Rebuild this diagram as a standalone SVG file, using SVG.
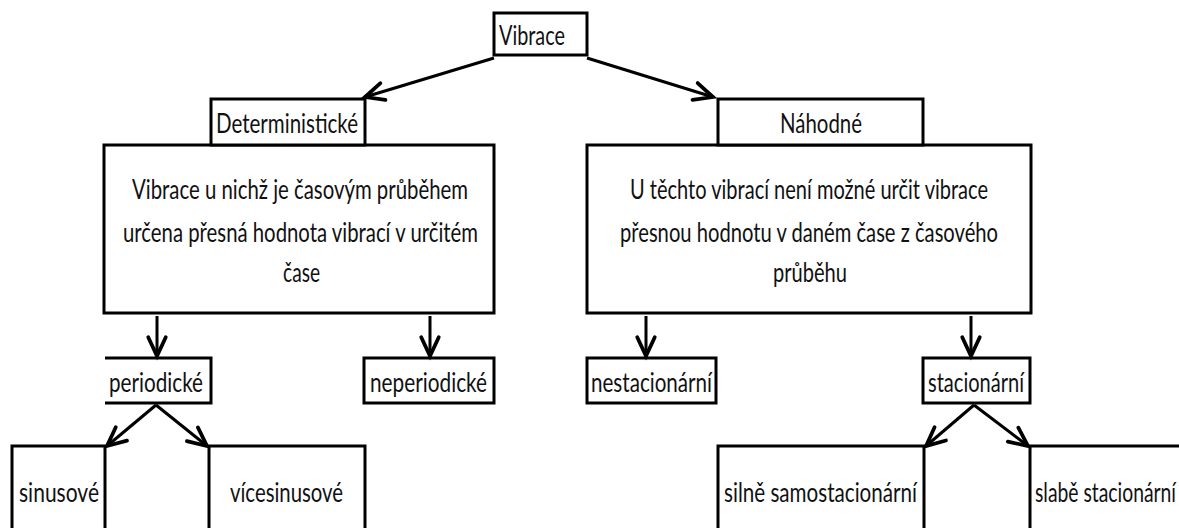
<svg xmlns="http://www.w3.org/2000/svg" width="1179" height="528" viewBox="0 0 1179 528">
<style>
.box{fill:#fff;stroke:#000;stroke-width:3}
.edge{fill:none;stroke:#000;stroke-width:3}
.t{font-family:Lato,"Open Sans","Liberation Sans",sans-serif;font-size:27px;fill:#111}
</style>
<defs>
<marker id="ah" markerUnits="userSpaceOnUse" markerWidth="30" markerHeight="30" viewBox="-20 -12 24 24" refX="0" refY="0" orient="auto">
<path d="M-15 -7 L0 0 L-15 7" fill="none" stroke="#000" stroke-width="3" stroke-linecap="round" stroke-linejoin="miter"/>
</marker>
</defs>
<rect width="1179" height="528" fill="#fff"/>
<g id="n-vibrace">
<rect class="box" x="494" y="13" width="93" height="42"/>
<text class="t" x="499" y="45" textLength="66" lengthAdjust="spacingAndGlyphs">Vibrace</text>
</g>
<g id="n-det-desc">
<rect class="box" x="104" y="145" width="390" height="168"/>
<text class="t" x="132" y="199" textLength="336" lengthAdjust="spacingAndGlyphs">Vibrace u nichž je časovým průběhem</text>
<text class="t" x="123" y="242" textLength="355" lengthAdjust="spacingAndGlyphs">určena přesná hodnota vibrací v určitém</text>
<text class="t" x="283" y="282" textLength="37" lengthAdjust="spacingAndGlyphs">čase</text>
</g>
<g id="n-deterministicke">
<rect class="box" x="211" y="99" width="154" height="46"/>
<text class="t" x="216" y="133" textLength="142" lengthAdjust="spacingAndGlyphs">Deterministické</text>
</g>
<g id="n-nah-desc">
<rect class="box" x="587" y="145" width="444" height="168"/>
<text class="t" x="630" y="199" textLength="358" lengthAdjust="spacingAndGlyphs">U těchto vibrací není možné určit vibrace</text>
<text class="t" x="620" y="242" textLength="378" lengthAdjust="spacingAndGlyphs">přesnou hodnotu v daném čase z časového</text>
<text class="t" x="773" y="282" textLength="74" lengthAdjust="spacingAndGlyphs">průběhu</text>
</g>
<g id="n-nahodne">
<rect class="box" x="718" y="99" width="205" height="46"/>
<text class="t" x="780" y="133" textLength="82" lengthAdjust="spacingAndGlyphs">Náhodné</text>
</g>
<g id="n-periodicke">
<path class="box" d="M105 358 H211 V403 H105"/>
<text class="t" x="109" y="392" textLength="94" lengthAdjust="spacingAndGlyphs">periodické</text>
</g>
<g id="n-neperiodicke">
<rect class="box" x="364" y="358" width="130" height="45"/>
<text class="t" x="370" y="392" textLength="117" lengthAdjust="spacingAndGlyphs">neperiodické</text>
</g>
<g id="n-nestacionarni">
<rect class="box" x="587" y="358" width="129" height="45"/>
<text class="t" x="591" y="392" textLength="121" lengthAdjust="spacingAndGlyphs">nestacionární</text>
</g>
<g id="n-stacionarni">
<rect class="box" x="923" y="358" width="107" height="45"/>
<text class="t" x="928" y="392" textLength="96" lengthAdjust="spacingAndGlyphs">stacionární</text>
</g>
<g id="n-sinusove">
<rect class="box" x="12" y="446" width="93" height="100"/>
<text class="t" x="19" y="502" textLength="80" lengthAdjust="spacingAndGlyphs">sinusové</text>
</g>
<g id="n-vicesinusove">
<rect class="box" x="209" y="446" width="156" height="100"/>
<text class="t" x="230" y="502" textLength="113" lengthAdjust="spacingAndGlyphs">vícesinusové</text>
</g>
<g id="n-silne">
<rect class="box" x="718" y="446" width="206" height="100"/>
<text class="t" x="724" y="502" textLength="193" lengthAdjust="spacingAndGlyphs">silně samostacionární</text>
</g>
<g id="n-slabe">
<rect class="box" x="1030" y="446" width="200" height="100"/>
<text class="t" x="1035" y="502" textLength="141" lengthAdjust="spacingAndGlyphs">slabě stacionární</text>
</g>
<g id="connectors">
<line class="edge" x1="494" y1="58" x2="365" y2="97" marker-end="url(#ah)"/>
<line class="edge" x1="587" y1="58" x2="713" y2="97" marker-end="url(#ah)"/>
<line class="edge" x1="157" y1="316" x2="157" y2="356" marker-end="url(#ah)"/>
<line class="edge" x1="430" y1="316" x2="430" y2="356" marker-end="url(#ah)"/>
<line class="edge" x1="646" y1="316" x2="646" y2="356" marker-end="url(#ah)"/>
<line class="edge" x1="971" y1="316" x2="971" y2="356" marker-end="url(#ah)"/>
<line class="edge" x1="156" y1="405" x2="107" y2="446" marker-end="url(#ah)"/>
<line class="edge" x1="156" y1="405" x2="207" y2="446" marker-end="url(#ah)"/>
<line class="edge" x1="974" y1="405" x2="926" y2="446" marker-end="url(#ah)"/>
<line class="edge" x1="974" y1="405" x2="1028" y2="446" marker-end="url(#ah)"/>
</g>
</svg>
